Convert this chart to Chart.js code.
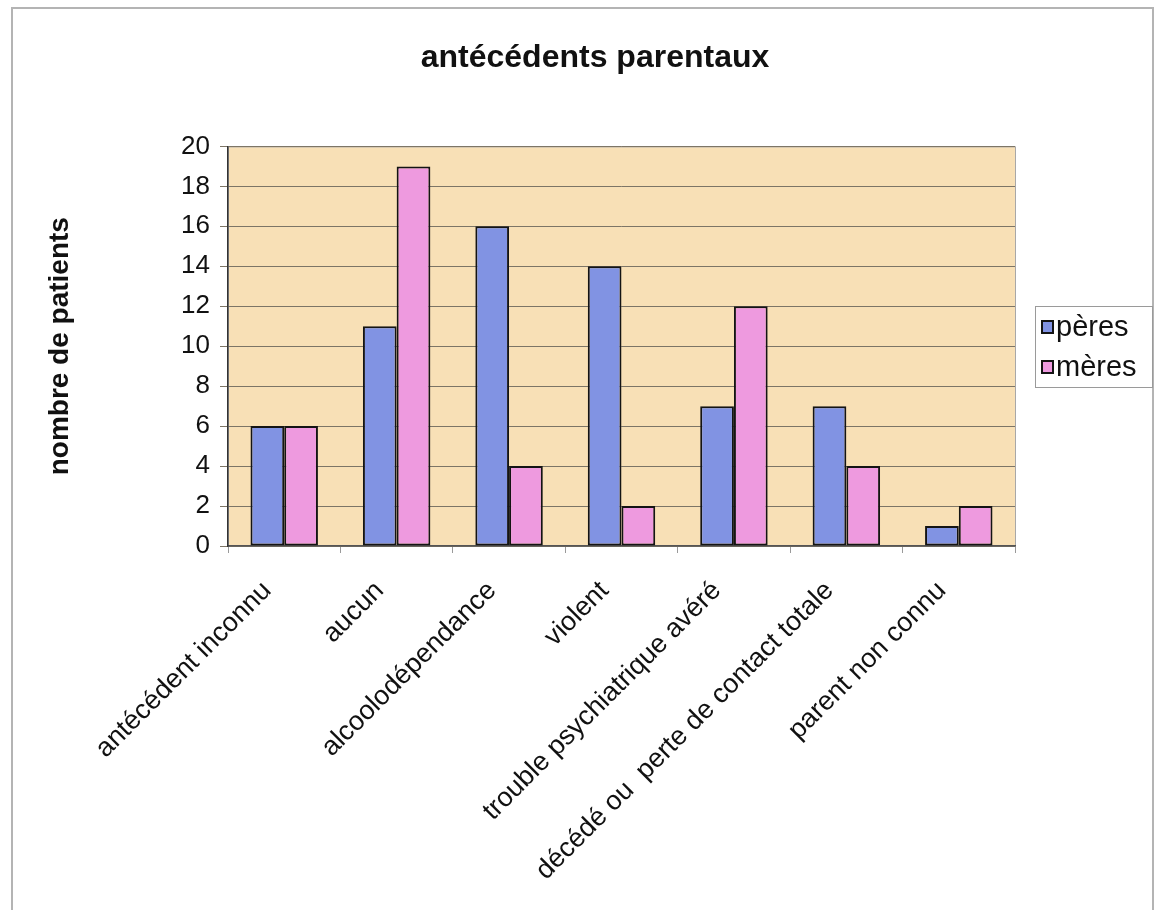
<!DOCTYPE html>
<html>
<head>
<meta charset="utf-8">
<script src="https://cdn.jsdelivr.net/npm/chart.js@4.4.1/dist/chart.umd.min.js"></script>
<style>
  html, body { margin: 0; padding: 0; background: #fff; }
  #wrap { width: 1155px; height: 910px; }
</style>
</head>
<body>
<div id="wrap"><canvas id="chart" width="1155" height="910"></canvas></div>
<script>
const categories = [
  'antécédent inconnu',
  'aucun',
  'alcoolodépendance',
  'violent',
  'trouble psychiatrique avéré',
  'décédé ou  perte de contact totale',
  'parent non connu'
];
const peres = [6, 11, 16, 14, 7, 7, 1];
const meres = [6, 19, 4, 2, 12, 4, 2];
const yTicks = [0, 2, 4, 6, 8, 10, 12, 14, 16, 18, 20];

const FONT = "'Liberation Sans', Arial, sans-serif";

// fond beige de la zone de tracé + cadre extérieur
const backgroundPlugin = {
  id: 'plotBackground',
  beforeDraw(chart) {
    const { ctx, chartArea: a } = chart;
    ctx.save();
    ctx.fillStyle = '#F8E0B6';
    ctx.fillRect(a.left, a.top, a.right - a.left, a.bottom - a.top);
    ctx.strokeStyle = '#a8a8a8';
    ctx.lineWidth = 1;
    ctx.strokeRect(a.left + 0.5, a.top + 0.5, a.right - a.left, a.bottom - a.top);
    ctx.strokeStyle = '#b4b4b4';
    ctx.lineWidth = 2;
    ctx.strokeRect(12, 8, 1141, chart.height + 10);
    ctx.restore();
  }
};

// légende encadrée, à droite de la zone de tracé
const legendPlugin = {
  id: 'boxedLegend',
  afterDraw(chart) {
    const ctx = chart.ctx;
    const x0 = 1035, y0 = 306, w = 117, h = 81;
    ctx.save();
    ctx.fillStyle = '#fff';
    ctx.fillRect(x0, y0, w, h);
    ctx.strokeStyle = '#9a9a9a';
    ctx.lineWidth = 1;
    ctx.strokeRect(x0 + 0.5, y0 + 0.5, w, h);
    ctx.font = '29px ' + FONT;
    ctx.textBaseline = 'middle';
    chart.data.datasets.forEach((ds, i) => {
      const cy = y0 + 21 + i * 40;
      ctx.fillStyle = ds.backgroundColor;
      ctx.fillRect(1042, cy - 6, 11, 12);
      ctx.strokeStyle = '#141414';
      ctx.lineWidth = 2;
      ctx.strokeRect(1042, cy - 6, 11, 12);
      ctx.fillStyle = '#111';
      ctx.fillText(ds.label, 1056, cy + 1);
    });
    ctx.restore();
  }
};

new Chart(document.getElementById('chart'), {
  type: 'bar',
  data: {
    labels: categories,
    datasets: [
      {
        label: 'pères',
        data: peres,
        backgroundColor: '#8193E3',
        borderColor: '#141414',
        borderWidth: 2,
        borderSkipped: false
      },
      {
        label: 'mères',
        data: meres,
        backgroundColor: '#EE9ADF',
        borderColor: '#141414',
        borderWidth: 2,
        borderSkipped: false
      }
    ]
  },
  options: {
    responsive: false,
    animation: false,
    layout: { padding: { left: 43, right: 8, top: 8, bottom: 0 } },
    datasets: {
      bar: { categoryPercentage: 0.6, barPercentage: 1.0 }
    },
    plugins: {
      title: {
        display: true,
        text: 'antécédents parentaux',
        color: '#111',
        font: { family: FONT, size: 32, weight: 'bold' },
        padding: { top: 31, bottom: 69 }
      },
      legend: { display: false },
      tooltip: { enabled: false }
    },
    scales: {
      x: {
        grid: {
          offset: true,
          drawOnChartArea: false,
          drawTicks: true,
          tickLength: 7,
          color: '#9a9a9a'
        },
        border: { display: true, color: '#555', width: 1.5 },
        ticks: {
          color: '#111',
          font: { family: FONT, size: 27 },
          maxRotation: 45,
          minRotation: 45,
          autoSkip: false,
          padding: 22,
          labelOffset: -17
        },
        afterFit(scale) { scale.height = 364; }
      },
      y: {
        min: 0,
        max: 20,
        afterBuildTicks(scale) { scale.ticks = yTicks.map(v => ({ value: v })); },
        grid: {
          color: '#7d7566',
          lineWidth: 1,
          tickLength: 8,
          drawTicks: true
        },
        border: { display: true, color: '#333', width: 1.5 },
        ticks: {
          color: '#111',
          font: { family: FONT, size: 26 },
          padding: 10
        },
        title: {
          display: true,
          text: 'nombre de patients',
          color: '#111',
          font: { family: FONT, size: 28, weight: 'bold' },
          padding: { top: 0, bottom: 0 }
        },
        afterFit(scale) { scale.width = 185; }
      },
      // axe vide : réserve la place de la légende à droite
      spacer: {
        position: 'right',
        display: true,
        grid: { display: false, drawTicks: false },
        border: { display: false },
        ticks: { display: false },
        afterFit(scale) { scale.width = 132; }
      }
    }
  },
  plugins: [backgroundPlugin, legendPlugin]
});
</script>
</body>
</html>
